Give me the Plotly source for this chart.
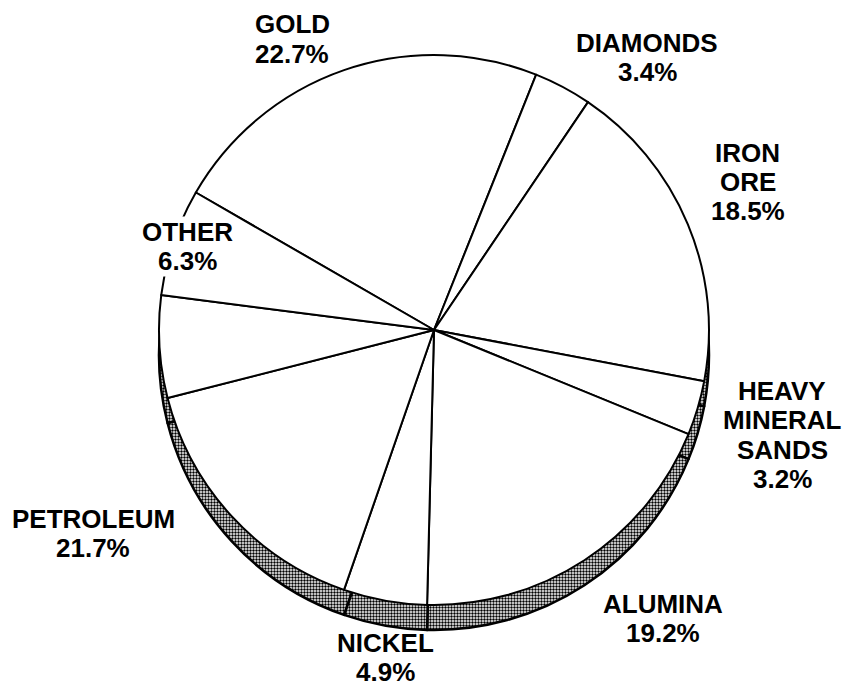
import plotly.graph_objects as go

# ---- data ----
commodities = ["GOLD", "DIAMONDS", "IRON ORE", "HEAVY MINERAL SANDS",
               "ALUMINA", "NICKEL", "PETROLEUM", "OTHER"]
shares = [22.7, 3.4, 18.5, 3.2, 19.2, 4.9, 21.7, 6.3]
label_lines = [["GOLD"], ["DIAMONDS"], ["IRON", "ORE"], ["HEAVY", "MINERAL", "SANDS"],
               ["ALUMINA"], ["NICKEL"], ["PETROLEUM"], ["OTHER"]]
# petroleum slice is drawn as two sub-slices in the original
petroleum_parts = [15.7, 6.0]

slice_labels = commodities[:6] + ["PETROLEUM (part 1)", "PETROLEUM (part 2)"] + commodities[7:]
slice_values = shares[:6] + petroleum_parts + shares[7:]

# ---- layout constants (pixels) ----
W, H = 847, 687
CX, CY, R, DEPTH = 434, 330, 275, 25
label_pos = [(292, 24.5), (647, 43), (747.5, 152.5), (782, 391),
             (662.5, 603.5), (385, 643), (93, 519), (187, 232)]
label_bg = [None, None, None, None, None, None, None, "#ffffff"]
LINE_STEP = 29.3
FONT = "Liberation Sans, Arial, sans-serif"


def dom(cx, cy, r):
    return dict(x=[(cx - r) / W, (cx + r) / W], y=[1 - (cy + r) / H, 1 - (cy - r) / H])


fig = go.Figure()

# extruded side (shadow) of the pie
fig.add_trace(go.Pie(
    labels=slice_labels, values=slice_values, sort=False, direction="clockwise",
    rotation=-60, textinfo="none", textposition="none", showlegend=False,
    hoverinfo="skip",
    domain=dom(CX, CY + DEPTH, R),
    marker=dict(colors=["#ffffff"] * len(slice_values),
                line=dict(color="#000000", width=2.5),
                pattern=dict(shape=".", fgcolor="#000000", bgcolor="#ffffff",
                             size=3, solidity=0.5, fillmode="replace")),
))

# top face of the pie
fig.add_trace(go.Pie(
    labels=slice_labels, values=slice_values, sort=False, direction="clockwise",
    rotation=-60, textinfo="none", textposition="none", showlegend=False,
    domain=dom(CX, CY, R),
    marker=dict(colors=["#ffffff"] * len(slice_values),
                line=dict(color="#000000", width=2)),
))

annotations = []
for lines, share, (px, py), bg in zip(label_lines, shares, label_pos, label_bg):
    all_lines = lines + [f"{share:.1f}%"]
    for i, t in enumerate(all_lines):
        ann = dict(
            x=px / W, y=1 - (py + i * LINE_STEP) / H, xref="paper", yref="paper",
            text=f"<b>{t}</b>", showarrow=False, xanchor="center", yanchor="middle",
            font=dict(family=FONT, size=26, color="#000000"), borderpad=0,
        )
        if bg:
            ann["bgcolor"] = bg
        annotations.append(ann)

fig.update_layout(
    width=W, height=H, autosize=False,
    margin=dict(l=0, r=0, t=0, b=0),
    paper_bgcolor="#ffffff", plot_bgcolor="#ffffff",
    annotations=annotations,
)

fig.write_html("out.html")
